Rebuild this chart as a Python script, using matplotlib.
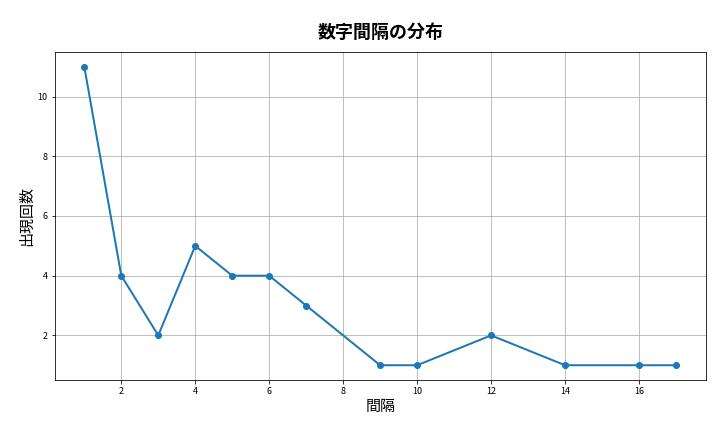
import matplotlib
matplotlib.use("Agg")
import matplotlib.pyplot as plt

plt.rcParams['font.family'] = ['Noto Sans CJK JP', 'DejaVu Sans']

gaps = [1, 2, 3, 4, 5, 6, 7, 9, 10, 12, 14, 16, 17]
counts = [11, 4, 2, 5, 4, 4, 3, 1, 1, 2, 1, 1, 1]

fig, ax = plt.subplots(figsize=(10, 6), dpi=72)
ax.plot(gaps, counts, marker='o', linewidth=2, color='#1f77b4')
ax.set_title('数字間隔の分布', fontsize=18, fontweight='bold', pad=14)
ax.set_xlabel('間隔', fontsize=15)
ax.set_ylabel('出現回数', fontsize=15)
ax.tick_params(labelsize=9)
ax.grid(True)
fig.subplots_adjust(left=0.076, right=0.98, top=0.88, bottom=0.12)
fig.savefig('out.png')
